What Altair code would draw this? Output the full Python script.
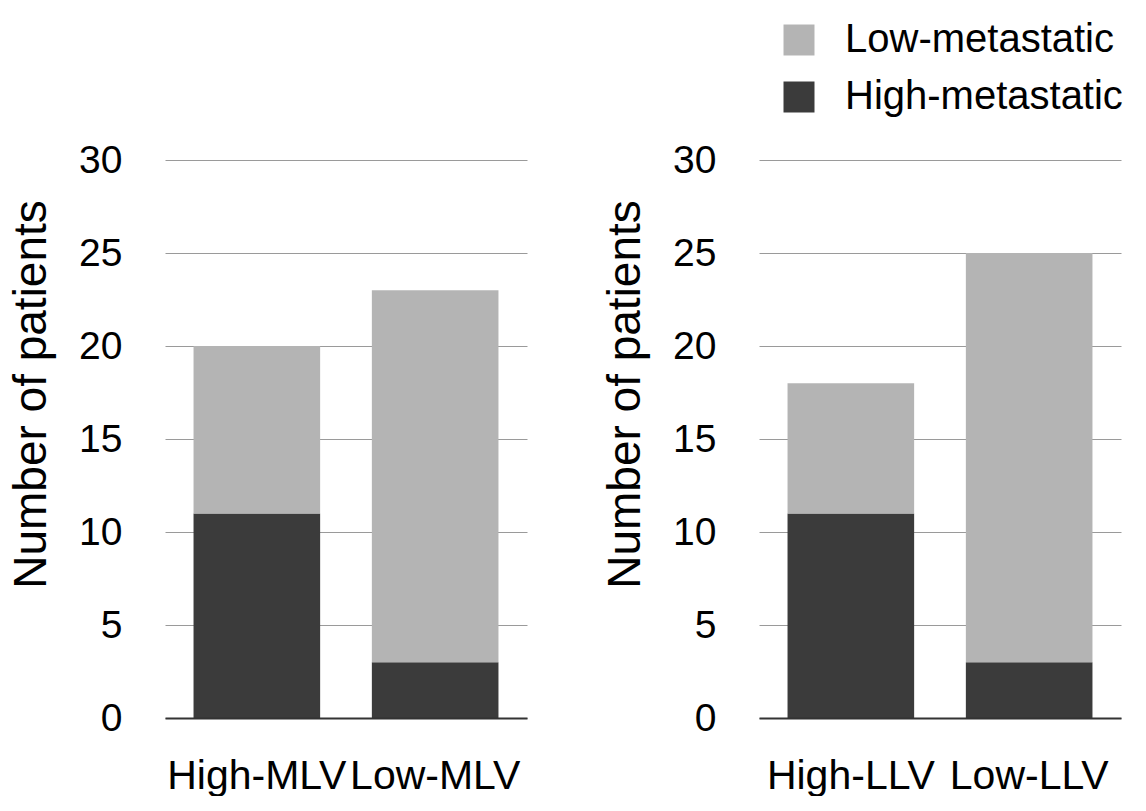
import pandas as pd
import altair as alt

# ── data ────────────────────────────────────────────────────────────────────
STATUS = ['Low-metastatic', 'High-metastatic']
COLORS = ['#b4b4b4', '#3b3b3b']

MLV_GROUPS = ['High-MLV', 'Low-MLV']
MLV_HIGH = [11, 3]
MLV_LOW = [9, 20]

LLV_GROUPS = ['High-LLV', 'Low-LLV']
LLV_HIGH = [11, 3]
LLV_LOW = [7, 22]

Y_TICKS = [0, 5, 10, 15, 20, 25, 30]
FONT = 'Liberation Sans'


def long_frame(groups, high, low):
    rows = []
    for g, h, l in zip(groups, high, low):
        rows.append({'group': g, 'status': 'High-metastatic', 'count': h, 'rank': 0})
        rows.append({'group': g, 'status': 'Low-metastatic', 'count': l, 'rank': 1})
    return pd.DataFrame(rows)


def panel(groups, high, low):
    df = long_frame(groups, high, low)
    return alt.Chart(df).mark_bar().encode(
        x=alt.X('group:N', sort=groups, title=None,
                scale=alt.Scale(paddingInner=0.29, paddingOuter=0.16),
                axis=alt.Axis(labelAngle=0, ticks=False, domainColor='#333333',
                              domainWidth=2, labelPadding=38, labelFontSize=41,
                              zindex=1)),
        y=alt.Y('count:Q', stack='zero',
                scale=alt.Scale(domain=[0, 30], nice=False),
                axis=alt.Axis(values=Y_TICKS, title='Number of patients',
                              domain=False, ticks=False, grid=True,
                              gridColor='#9a9a9a', gridWidth=1,
                              labelPadding=43, titlePadding=23, titleY=234)),
        color=alt.Color('status:N',
                        scale=alt.Scale(domain=STATUS, range=COLORS),
                        legend=alt.Legend(orient='none', legendX=614, legendY=-140,
                                          title=None, symbolType='square',
                                          symbolSize=961, symbolStrokeWidth=0,
                                          symbolOpacity=1, labelFontSize=40,
                                          labelOffset=26, rowPadding=17,
                                          labelLimit=0, labelFont=FONT,
                                          labelColor='black', padding=0)),
        order=alt.Order('rank:Q'),
    ).properties(width=362, height=558)


chart = (
    alt.hconcat(panel(MLV_GROUPS, MLV_HIGH, MLV_LOW),
                panel(LLV_GROUPS, LLV_HIGH, LLV_LOW), spacing=75)
    .properties(padding={'left': 0, 'top': 12, 'right': 0, 'bottom': 0})
    .configure_view(stroke=None)
    .configure_axis(labelFont=FONT, labelFontSize=39, labelColor='black',
                    titleFont=FONT, titleFontSize=46, titleFontWeight='normal',
                    titleColor='black')
)

chart.save('out.html', embed_options={'renderer': 'svg', 'actions': False})
